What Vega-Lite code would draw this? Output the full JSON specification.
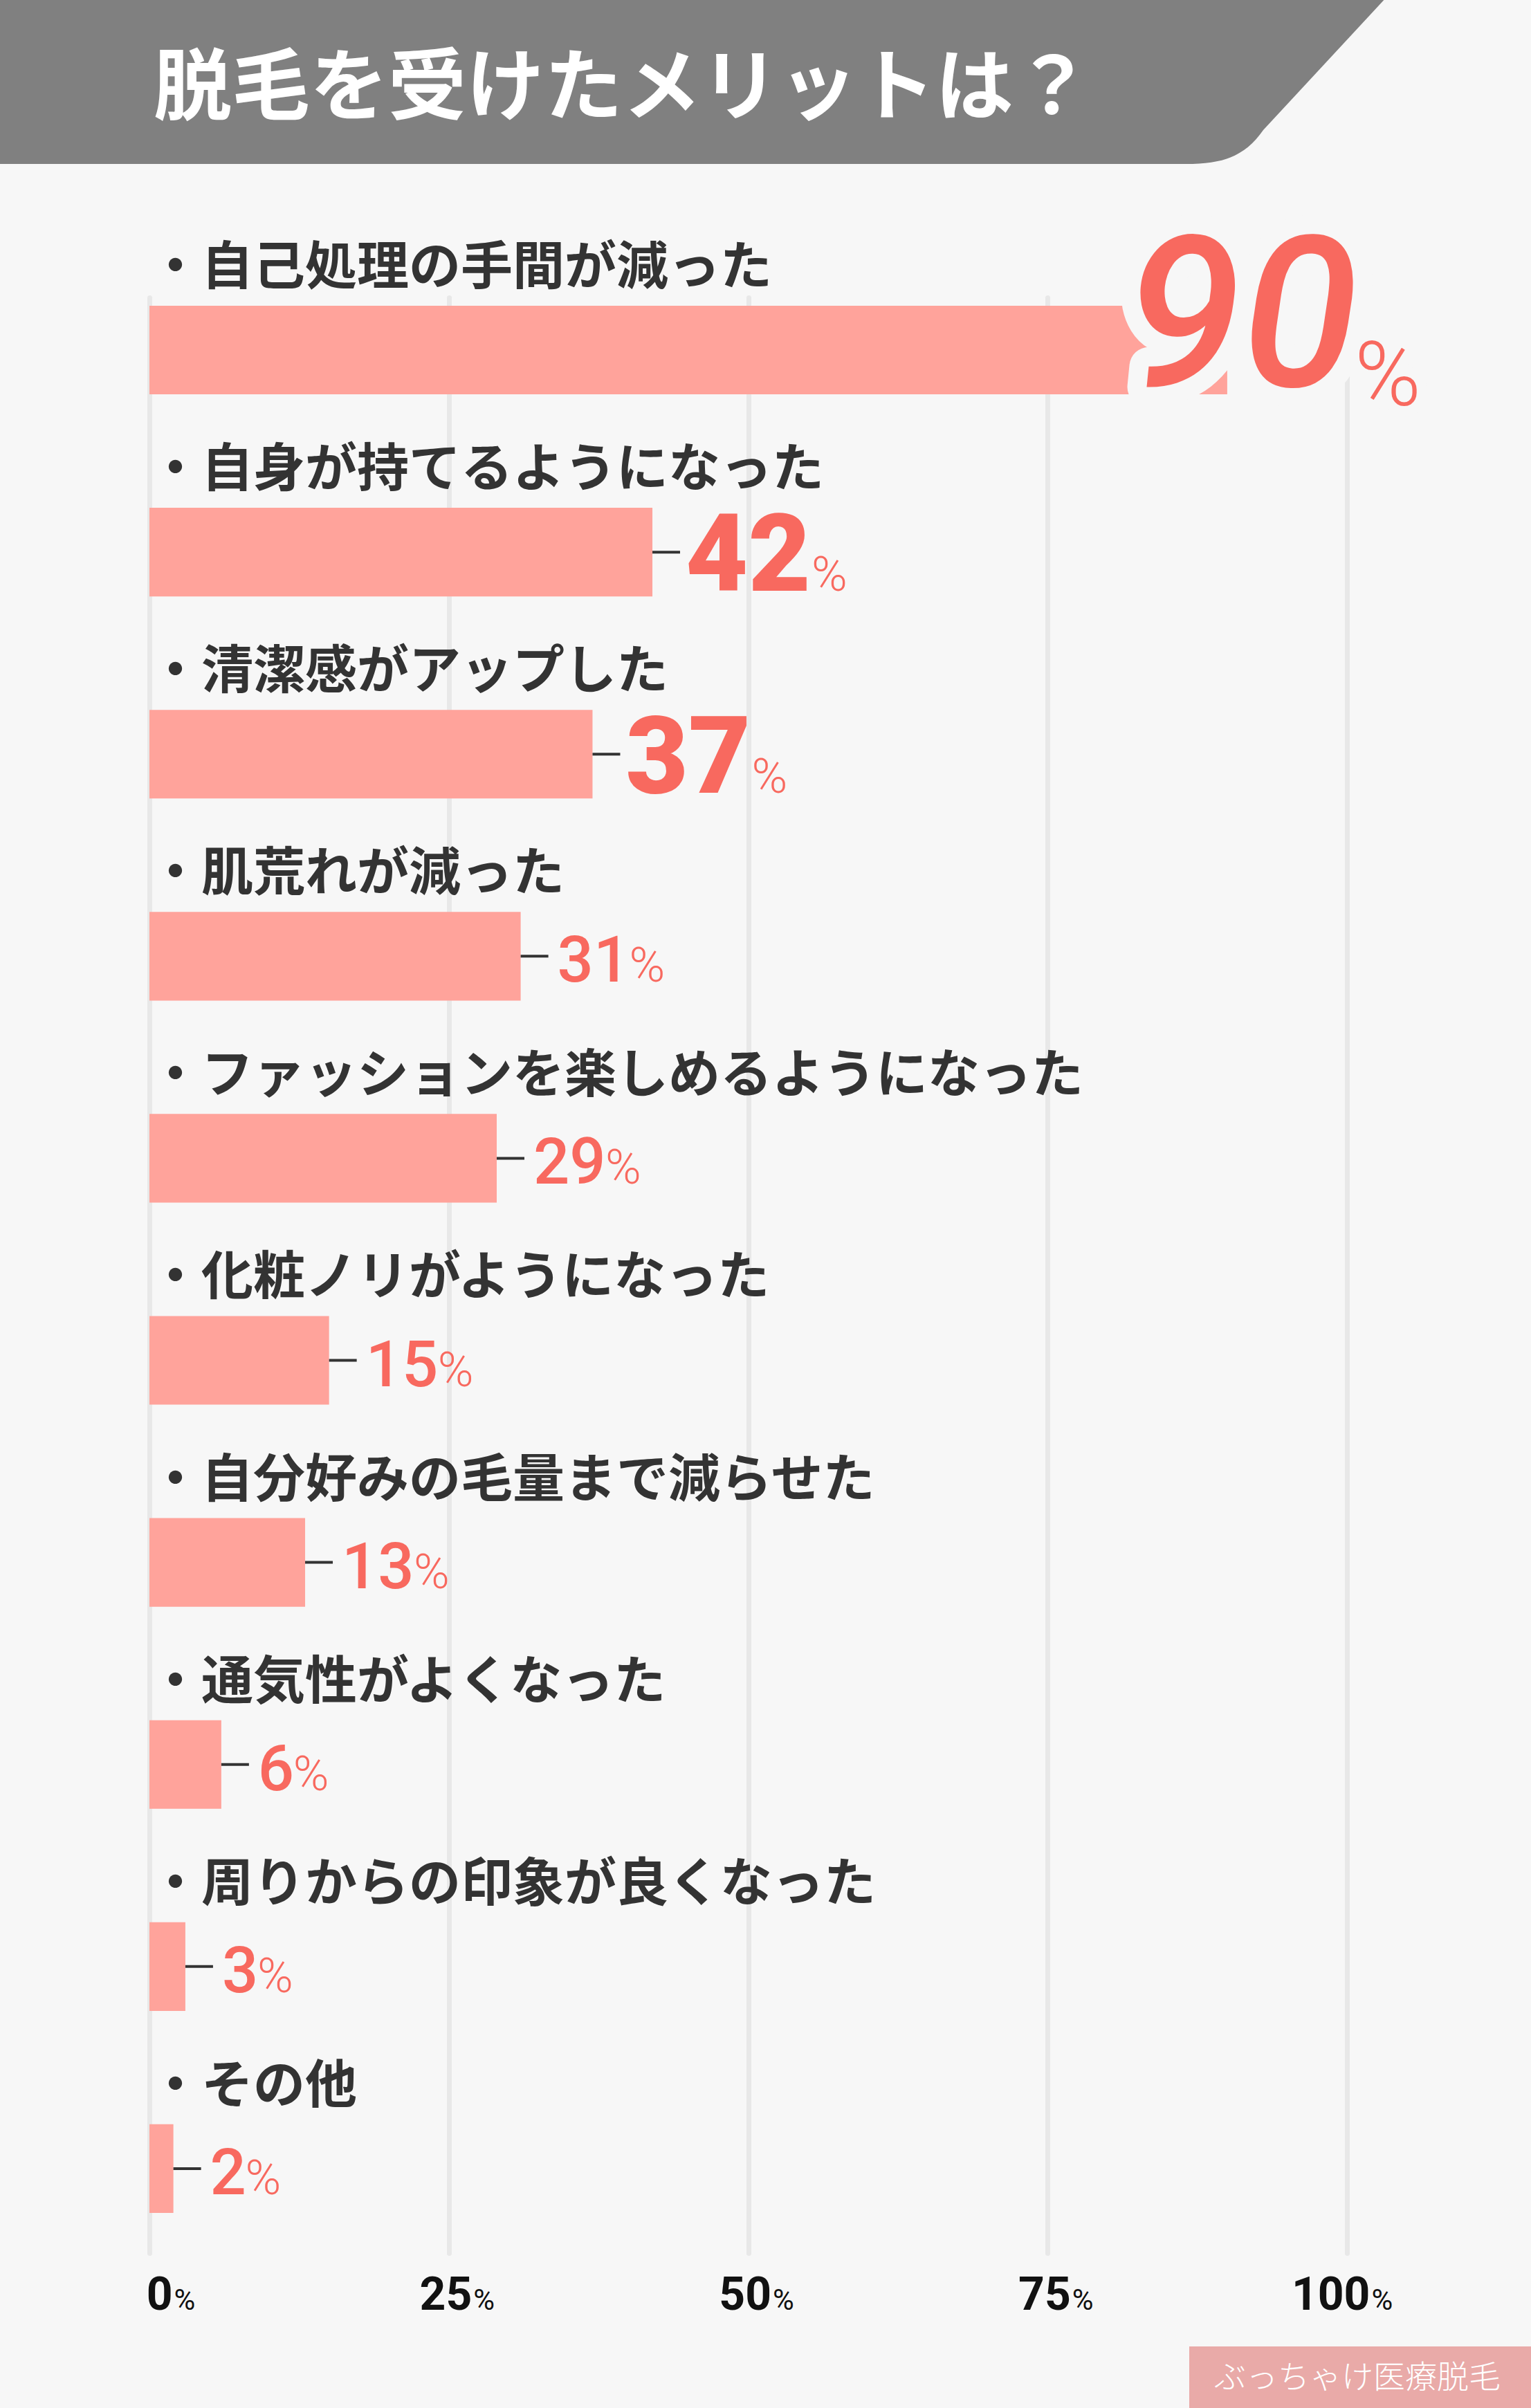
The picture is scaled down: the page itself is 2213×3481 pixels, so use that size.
{
  "$schema": "https://vega.github.io/schema/vega-lite/v6.json",
  "width": 1731,
  "height": 2827,
  "autosize": {"type": "none"},
  "padding": {"left": 216, "top": 430, "right": 266, "bottom": 224},
  "background": "#f7f7f7",
  "config": {"view": {"stroke": null}, "font": "Roboto"},
  "data": {
    "values": [
      {"item": "自己処理の手間が減った", "pct": 90},
      {"item": "自身が持てるようになった", "pct": 42},
      {"item": "清潔感がアップした", "pct": 37},
      {"item": "肌荒れが減った", "pct": 31},
      {"item": "ファッションを楽しめるようになった", "pct": 29},
      {"item": "化粧ノリがようになった", "pct": 15},
      {"item": "自分好みの毛量まで減らせた", "pct": 13},
      {"item": "通気性がよくなった", "pct": 6},
      {"item": "周りからの印象が良くなった", "pct": 3},
      {"item": "その他", "pct": 2}
    ]
  },
  "resolve": {"axis": {"x": "independent"}},
  "layer": [
    {
      "data": {"values": [{}]},
      "mark": {
        "type": "point",
        "shape": "M -0.0864 -0.21 L 0.7208 -0.21 L 0.644 -0.1272 C 0.6336 -0.1124 0.6216 -0.1076 0.5992 -0.1076 L -0.0864 -0.1076 Z",
        "size": 25000000,
        "filled": true,
        "color": "#808080",
        "opacity": 1,
        "strokeWidth": 0
      },
      "encoding": {
        "x": {"datum": 0, "type": "quantitative", "axis": null},
        "y": {"datum": "自己処理の手間が減った", "type": "nominal", "axis": null}
      }
    },
    {
      "data": {"values": [{}]},
      "mark": {
        "type": "text",
        "text": "脱毛を受けたメリットは？",
        "font": "Noto Sans CJK JP",
        "fontSize": 113,
        "fontWeight": "bold",
        "color": "#ffffff",
        "align": "left",
        "baseline": "alphabetic",
        "dx": 6,
        "dy": -342
      },
      "encoding": {
        "x": {"datum": 0, "type": "quantitative", "axis": null},
        "y": {"datum": "自己処理の手間が減った", "type": "nominal", "axis": null}
      }
    },
    {
      "mark": {"type": "bar", "color": "#ffa39b"},
      "encoding": {
        "x": {
          "field": "pct",
          "type": "quantitative",
          "scale": {"domain": [0, 100], "nice": false, "zero": true},
          "axis": {
            "orient": "bottom",
            "values": [0, 25, 50, 75, 100],
            "title": null,
            "grid": true,
            "gridColor": "#e8e8e8",
            "gridWidth": 7,
            "gridCap": "round",
            "domain": false,
            "ticks": false,
            "labelExpr": "datum.value",
            "labelFont": "Roboto",
            "labelFontSize": 66,
            "labelFontWeight": "bold",
            "labelColor": "#111111",
            "labelAlign": "right",
            "labelOffset": 33,
            "labelBaseline": "alphabetic",
            "labelPadding": 81,
            "labelFlush": false,
            "labelOverlap": false
          }
        },
        "y": {
          "field": "item",
          "type": "nominal",
          "sort": null,
          "axis": null,
          "scale": {
            "domain": [
              "自己処理の手間が減った",
              "自身が持てるようになった",
              "清潔感がアップした",
              "肌荒れが減った",
              "ファッションを楽しめるようになった",
              "化粧ノリがようになった",
              "自分好みの毛量まで減らせた",
              "通気性がよくなった",
              "周りからの印象が良くなった",
              "その他"
            ],
            "paddingInner": 0.5614,
            "paddingOuter": 0.1198,
            "align": 0.171
          }
        }
      }
    },
    {
      "mark": {"type": "rule", "color": "#333333", "strokeWidth": 4, "x2Offset": 40},
      "encoding": {
        "x": {
          "field": "pct",
          "type": "quantitative",
          "axis": {
            "orient": "bottom",
            "values": [0, 25, 50, 75, 100],
            "title": null,
            "grid": false,
            "domain": false,
            "ticks": false,
            "labelExpr": "'%'",
            "labelFont": "Roboto",
            "labelFontSize": 42,
            "labelFontWeight": 400,
            "labelColor": "#111111",
            "labelAlign": "left",
            "labelOffset": 35,
            "labelBaseline": "alphabetic",
            "labelPadding": 81,
            "labelFlush": false,
            "labelOverlap": false
          }
        },
        "x2": {"field": "pct"},
        "y": {"field": "item", "type": "nominal", "sort": null, "axis": null}
      }
    },
    {
      "mark": {
        "type": "text",
        "text": "・",
        "font": "Noto Sans CJK JP",
        "fontSize": 75,
        "fontWeight": "bold",
        "color": "#333333",
        "align": "left",
        "baseline": "alphabetic",
        "dy": -31
      },
      "encoding": {
        "x": {"datum": 0, "type": "quantitative", "axis": null},
        "y": {"field": "item", "type": "nominal", "sort": null, "axis": null, "bandPosition": 0}
      }
    },
    {
      "mark": {
        "type": "text",
        "font": "Noto Sans CJK JP",
        "fontSize": 75,
        "fontWeight": "bold",
        "color": "#333333",
        "align": "left",
        "baseline": "alphabetic",
        "dx": 75,
        "dy": -31
      },
      "encoding": {
        "x": {"datum": 0, "type": "quantitative", "axis": null},
        "y": {"field": "item", "type": "nominal", "sort": null, "axis": null, "bandPosition": 0},
        "text": {"field": "item"}
      }
    },
    {
      "transform": [{"filter": "datum.pct < 35"}],
      "mark": {
        "type": "text",
        "font": "Roboto",
        "fontSize": 92,
        "fontWeight": 500,
        "color": "#f8695f",
        "align": "left",
        "baseline": "alphabetic",
        "dx": 53,
        "dy": 37
      },
      "encoding": {
        "x": {"field": "pct", "type": "quantitative", "axis": null},
        "y": {"field": "item", "type": "nominal", "sort": null, "axis": null},
        "text": {"field": "pct"}
      }
    },
    {
      "transform": [{"filter": "datum.pct < 10"}],
      "mark": {
        "type": "text",
        "text": "%",
        "font": "Roboto",
        "fontSize": 70,
        "fontWeight": 300,
        "color": "#f8695f",
        "align": "left",
        "baseline": "alphabetic",
        "dx": 104,
        "dy": 37
      },
      "encoding": {
        "x": {"field": "pct", "type": "quantitative", "axis": null},
        "y": {"field": "item", "type": "nominal", "sort": null, "axis": null}
      }
    },
    {
      "transform": [{"filter": "datum.pct >= 10 && datum.pct < 35"}],
      "mark": {
        "type": "text",
        "text": "%",
        "font": "Roboto",
        "fontSize": 70,
        "fontWeight": 300,
        "color": "#f8695f",
        "align": "left",
        "baseline": "alphabetic",
        "dx": 157,
        "dy": 37
      },
      "encoding": {
        "x": {"field": "pct", "type": "quantitative", "axis": null},
        "y": {"field": "item", "type": "nominal", "sort": null, "axis": null}
      }
    },
    {
      "transform": [{"filter": "datum.pct >= 35 && datum.pct < 80"}],
      "mark": {
        "type": "text",
        "font": "Roboto",
        "fontSize": 156,
        "fontWeight": 900,
        "color": "#f8695f",
        "align": "left",
        "baseline": "alphabetic",
        "dx": 48,
        "dy": 56
      },
      "encoding": {
        "x": {"field": "pct", "type": "quantitative", "axis": null},
        "y": {"field": "item", "type": "nominal", "sort": null, "axis": null},
        "text": {"field": "pct"}
      }
    },
    {
      "transform": [{"filter": "datum.pct >= 35 && datum.pct < 80"}],
      "mark": {
        "type": "text",
        "text": "%",
        "font": "Roboto",
        "fontSize": 70,
        "fontWeight": 300,
        "color": "#f8695f",
        "align": "left",
        "baseline": "alphabetic",
        "dx": 230,
        "dy": 56
      },
      "encoding": {
        "x": {"field": "pct", "type": "quantitative", "axis": null},
        "y": {"field": "item", "type": "nominal", "sort": null, "axis": null}
      }
    },
    {
      "transform": [{"filter": "datum.pct >= 80"}],
      "mark": {
        "type": "text",
        "font": "Roboto",
        "fontSize": 305,
        "fontWeight": 500,
        "fontStyle": "italic",
        "fill": "#f7f7f7",
        "stroke": "#f7f7f7",
        "strokeWidth": 56,
        "strokeJoin": "round",
        "align": "left",
        "baseline": "alphabetic",
        "dx": -147,
        "dy": 52
      },
      "encoding": {
        "x": {"field": "pct", "type": "quantitative", "axis": null},
        "y": {"field": "item", "type": "nominal", "sort": null, "axis": null},
        "text": {"field": "pct"}
      }
    },
    {
      "transform": [{"filter": "datum.pct >= 80"}],
      "mark": {
        "type": "text",
        "text": "%",
        "font": "Roboto",
        "fontSize": 130,
        "fontWeight": 300,
        "fill": "#f7f7f7",
        "stroke": "#f7f7f7",
        "strokeWidth": 30,
        "strokeJoin": "round",
        "align": "left",
        "baseline": "alphabetic",
        "dx": 184,
        "dy": 80
      },
      "encoding": {
        "x": {"field": "pct", "type": "quantitative", "axis": null},
        "y": {"field": "item", "type": "nominal", "sort": null, "axis": null}
      }
    },
    {
      "transform": [{"filter": "datum.pct >= 80"}],
      "mark": {
        "type": "text",
        "font": "Roboto",
        "fontSize": 305,
        "fontWeight": 500,
        "fontStyle": "italic",
        "color": "#f8695f",
        "align": "left",
        "baseline": "alphabetic",
        "dx": -147,
        "dy": 52
      },
      "encoding": {
        "x": {"field": "pct", "type": "quantitative", "axis": null},
        "y": {"field": "item", "type": "nominal", "sort": null, "axis": null},
        "text": {"field": "pct"}
      }
    },
    {
      "transform": [{"filter": "datum.pct >= 80"}],
      "mark": {
        "type": "text",
        "text": "%",
        "font": "Roboto",
        "fontSize": 130,
        "fontWeight": 300,
        "color": "#f8695f",
        "align": "left",
        "baseline": "alphabetic",
        "dx": 184,
        "dy": 80
      },
      "encoding": {
        "x": {"field": "pct", "type": "quantitative", "axis": null},
        "y": {"field": "item", "type": "nominal", "sort": null, "axis": null}
      }
    },
    {
      "data": {"values": [{}]},
      "mark": {
        "type": "point",
        "shape": "M -0.456 0.514 L 0.54 0.514 L 0.54 0.7 L -0.456 0.7 Z",
        "size": 1000000,
        "filled": true,
        "color": "#e9aaa8",
        "opacity": 1,
        "strokeWidth": 0
      },
      "encoding": {
        "x": {"datum": 100, "type": "quantitative", "axis": null},
        "y": {"datum": "その他", "type": "nominal", "axis": null}
      }
    },
    {
      "data": {"values": [{}]},
      "mark": {
        "type": "text",
        "text": "ぶっちゃけ医療脱毛",
        "font": "Noto Sans CJK JP",
        "fontSize": 46,
        "fontWeight": 300,
        "color": "#ffffff",
        "align": "left",
        "baseline": "alphabetic",
        "dx": -192,
        "dy": 317
      },
      "encoding": {
        "x": {"datum": 100, "type": "quantitative", "axis": null},
        "y": {"datum": "その他", "type": "nominal", "axis": null}
      }
    }
  ]
}
